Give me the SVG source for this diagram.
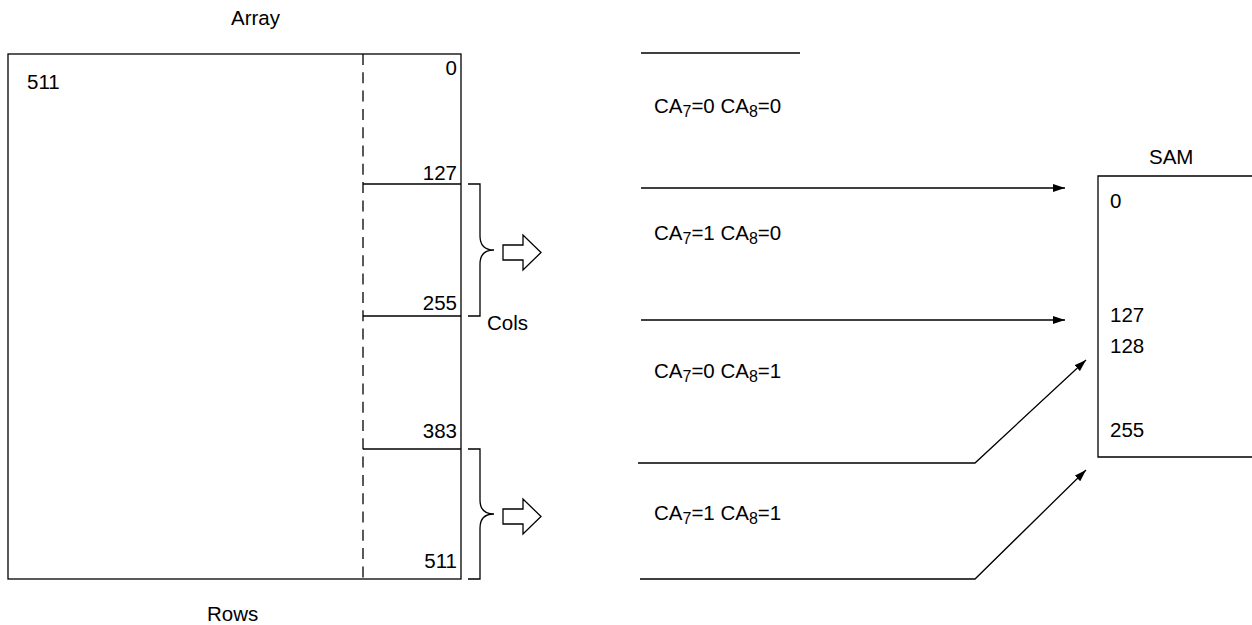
<svg xmlns="http://www.w3.org/2000/svg" width="1252" height="625" viewBox="0 0 1252 625">
<style>
text{font-family:"Liberation Sans",Arial,sans-serif;font-size:20.5px;fill:#000}
.r{text-anchor:end}
.ln{stroke:#000;stroke-width:1.3;fill:none}
.sub{font-size:16px}
</style>
<defs>
<marker id="ah" viewBox="0 0 12 8" refX="12" refY="4" markerWidth="12" markerHeight="8" markerUnits="userSpaceOnUse" orient="auto">
<path d="M0,0 L12,4 L0,8 Z" fill="#000"/>
</marker>
</defs>
<rect width="1252" height="625" fill="#fff"/>
<g id="array">
<rect x="8" y="54" width="453" height="525" class="ln"/>
<line x1="363" y1="54" x2="363" y2="579" class="ln" stroke-dasharray="11 7.3"/>
<line x1="363" y1="184" x2="461" y2="184" class="ln"/>
<line x1="363" y1="316" x2="461" y2="316" class="ln"/>
<line x1="363" y1="449" x2="461" y2="449" class="ln"/>
<text x="231" y="25">Array</text>
<text x="207" y="621">Rows</text>
<text x="27" y="89">511</text>
<text x="457" y="75" class="r">0</text>
<text x="457" y="180" class="r">127</text>
<text x="457" y="310" class="r">255</text>
<text x="457" y="438" class="r">383</text>
<text x="457" y="568" class="r">511</text>
</g>
<g id="brace1">
<path d="M468,184 H480 V236 Q480,250 494,250 Q480,250 480,264 V316 H468" class="ln"/>
<path d="M503,245 H523 V235 L541,252.5 L523,270 V260 H503 Z" class="ln"/>
<text x="487" y="330">Cols</text>
</g>
<g id="brace2">
<path d="M468,449 H480 V500 Q480,514 494,514 Q480,514 480,528 V579 H468" class="ln"/>
<path d="M503,509 H523 V499 L541,516.5 L523,534 V524 H503 Z" class="ln"/>
</g>
<g id="labels">
<text x="654" y="113">CA<tspan class="sub" dy="4">7</tspan><tspan dy="-4">=0 CA</tspan><tspan class="sub" dy="4">8</tspan><tspan dy="-4">=0</tspan></text>
<text x="654" y="240">CA<tspan class="sub" dy="4">7</tspan><tspan dy="-4">=1 CA</tspan><tspan class="sub" dy="4">8</tspan><tspan dy="-4">=0</tspan></text>
<text x="654" y="378">CA<tspan class="sub" dy="4">7</tspan><tspan dy="-4">=0 CA</tspan><tspan class="sub" dy="4">8</tspan><tspan dy="-4">=1</tspan></text>
<text x="654" y="520">CA<tspan class="sub" dy="4">7</tspan><tspan dy="-4">=1 CA</tspan><tspan class="sub" dy="4">8</tspan><tspan dy="-4">=1</tspan></text>
</g>
<g id="sam">
<path d="M1252,176 H1098 V457 H1252" class="ln"/>
<text x="1149" y="164">SAM</text>
<text x="1110" y="208">0</text>
<text x="1110" y="322">127</text>
<text x="1110" y="353">128</text>
<text x="1110" y="437">255</text>
</g>
<g id="connectors">
<line x1="641" y1="53" x2="800" y2="53" class="ln"/>
<line x1="641" y1="188" x2="1065" y2="188" class="ln" marker-end="url(#ah)"/>
<line x1="641" y1="320" x2="1065" y2="320" class="ln" marker-end="url(#ah)"/>
<polyline points="638,463 975,463 1086,360" class="ln" marker-end="url(#ah)"/>
<polyline points="640,579 975,579 1086,470" class="ln" marker-end="url(#ah)"/>
</g>
</svg>
